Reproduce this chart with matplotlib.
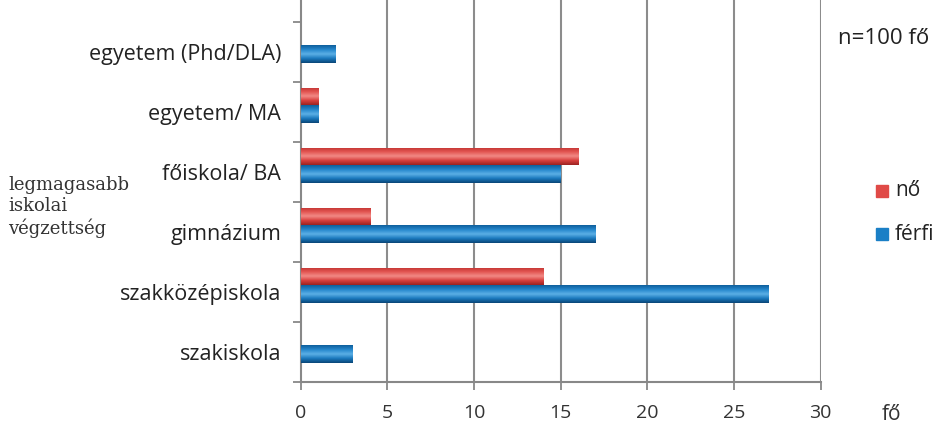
import numpy as np
import matplotlib.pyplot as plt
from matplotlib.colors import LinearSegmentedColormap

plt.rcParams['font.family'] = ['Open Sans', 'DejaVu Sans']

categories = ['szakiskola', 'szakközépiskola', 'gimnázium',
              'főiskola/ BA', 'egyetem/ MA', 'egyetem (Phd/DLA)']
no = [0, 14, 4, 16, 1, 0]
ferfi = [3, 27, 17, 15, 1, 2]
x_ticks = [0, 5, 10, 15, 20, 25, 30]

blue_cmap = LinearSegmentedColormap.from_list(
    'kek', ['#0a4677', '#1a78bd', '#5cb0e6', '#2587cc', '#0f5f9c'])
red_cmap = LinearSegmentedColormap.from_list(
    'piros', ['#9c2322', '#d8403e', '#f28a86', '#e25450', '#c03331'])

fig = plt.figure(figsize=(9.4, 4.28), dpi=100)
ax = fig.add_axes([0.320, 0.1075, 0.553, 0.8925])

y = np.arange(len(categories))
h = 0.29


def shaded_bars(ypos, vals, cmap):
    bars = ax.barh(ypos, vals, height=h, color=cmap(0.5), zorder=3)
    grad = np.linspace(0, 1, 64).reshape(-1, 1)
    for b in bars:
        if b.get_width() <= 0:
            continue
        x0, y0 = b.get_x(), b.get_y()
        im = ax.imshow(grad, cmap=cmap, aspect='auto', origin='lower',
                       extent=[x0, x0 + b.get_width(), y0, y0 + b.get_height()],
                       zorder=4, interpolation='bilinear')
        im.set_clip_path(b)
    return bars


shaded_bars(y - 0.03, ferfi, blue_cmap)
shaded_bars(y + 0.26, no, red_cmap)

ax.set_xlim(0, 30)
ax.set_ylim(-0.5, 5.87)

ax.set_xticks(x_ticks)
ax.set_xticklabels([str(t) for t in x_ticks], fontsize=14, color='#333333')
ax.set_yticks(y)
ax.set_yticklabels(categories, fontsize=15.5, color='#222222')
ax.set_yticks(np.arange(-0.5, 5.6, 1), minor=True)

ax.tick_params(axis='y', which='major', length=0, pad=14)
ax.tick_params(axis='y', which='minor', length=6, width=1.3, color='#888888')
ax.tick_params(axis='x', length=6, width=1.3, color='#888888', pad=10)

for s in ['top', 'right']:
    ax.spines[s].set_visible(False)
for s in ['left', 'bottom']:
    ax.spines[s].set_color('#888888')
    ax.spines[s].set_linewidth(1.5)

for t in x_ticks[1:]:
    ax.axvline(t, color='#8c8c8c', linewidth=1.5, zorder=1)

fig.text(8 / 940, 1 - 207 / 428, 'legmagasabb\niskolai\nvégzettség',
         family='DejaVu Serif', fontsize=13, color='#333333',
         va='center', ha='left', linespacing=1.25)

fig.text(838 / 940, 1 - 38 / 428, 'n=100 fő', fontsize=16,
         color='#222222', va='center', ha='left')

fig.text(882 / 940, 1 - 415 / 428, 'fő', fontsize=15,
         color='#333333', va='center', ha='left')

# legend
for label, col, yy in [('nő', '#e04a47', 191), ('férfi', '#1a7fc6', 234)]:
    fig.patches.append(plt.Rectangle((876 / 940, 1 - (yy + 6) / 428),
                                     12 / 940, 12 / 428, color=col,
                                     transform=fig.transFigure, figure=fig))
    fig.text(895 / 940, 1 - yy / 428, label, fontsize=15,
             color='#222222', va='center', ha='left')

fig.savefig('out.png', dpi=100)
